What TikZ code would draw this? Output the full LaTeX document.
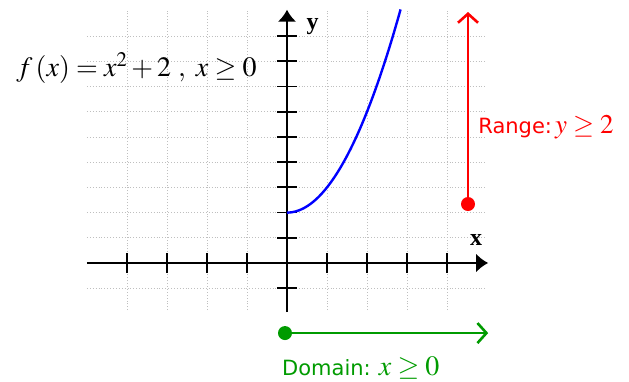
\documentclass[tikz,border=0pt]{standalone}
\usepackage{mathptmx}
\usepackage{fontspec}
\setmainfont{Liberation Serif}
\setsansfont{DejaVu Sans}
\usetikzlibrary{arrows.meta,positioning}
\definecolor{domgreen}{RGB}{0,155,0}

\begin{document}
\begin{tikzpicture}[
  x=40pt, y=25.2pt,
  gridline/.style={draw=gray!50, dotted, line width=0.9pt},
  axis/.style={line width=2.8pt, -{Latex[length=12pt,width=19pt]}},
  axtick/.style={line width=1.8pt},
  curve/.style={draw=blue, line width=2.4pt},
  rangearr/.style={draw=red, line width=2.6pt, -{Straight Barb[length=9pt,width=20pt,line width=2.6pt]}},
  domarr/.style={draw=domgreen, line width=2.6pt, -{Straight Barb[length=9pt,width=20pt,line width=2.6pt]}},
  lbl/.style={inner sep=0pt, font=\bfseries\fontsize{24}{26}\selectfont}
]
\useasboundingbox (-287pt,-119pt) rectangle (342pt,263pt);

% grid
\foreach \i in {-4,-3,-2,-1,1,2,3,4} \draw[gridline] (\i,-1.87) -- (\i,10);
\foreach \j in {-1,1,2,...,9} \draw[gridline] (-5,\j) -- (4.98,\j);

% axes and ticks
\draw[axis] (-5,0) -- (5.03,0);
\draw[axis] (0,-1.95) -- (0,10.05);
\foreach \i in {-4,-3,-2,-1,1,2,3,4} \draw[axtick] (\i,-0.38) -- (\i,0.38);
\foreach \j in {-1,1,2,...,9} \draw[axtick] (-0.25,\j) -- (0.25,\j);
\node[lbl] (ylbl) at (0.64,9.4) {y};
\node[lbl] (xlbl) at (4.73,0.9) {x};

% f(x) = x^2 + 2
\draw[curve] plot[domain=0:2.84, samples=60] (\x,{\x*\x+2});
\node[inner sep=0pt, font=\fontsize{28}{32}\selectfont] (func) at (-3.76,7.74)
  {$f\left(x\right)=x^{2}+2\ ,\ x\geq 0$};

% range
\coordinate (rlo) at (4.525,2.34);
\coordinate (rhi) at (4.525,9.96);
\draw[rangearr] (rlo) -- (rhi);
\fill[red] (rlo) circle (7pt);
\node[anchor=west, inner sep=0pt, text=red] (rng) at (4.78,5.4)
  {{\sffamily\fontsize{21}{24}\selectfont Range:}\hspace{3pt}{\fontsize{27}{30}\selectfont$y\geq 2$}};

% domain
\coordinate (dlo) at (-0.05,-2.78);
\coordinate (dhi) at (5.03,-2.78);
\draw[domarr] (dlo) -- (dhi);
\fill[domgreen] (dlo) circle (7pt);
\node[anchor=west, inner sep=0pt, text=domgreen] (dom) at (-0.125,-4.17)
  {{\sffamily\fontsize{21}{24}\selectfont Domain:}\hspace{8pt}{\fontsize{28}{32}\selectfont$x\geq 0$}};
\end{tikzpicture}
\end{document}
